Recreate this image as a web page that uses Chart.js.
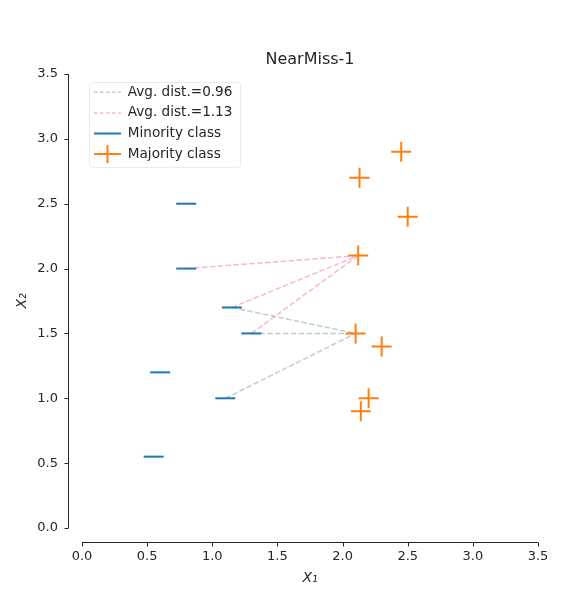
<!DOCTYPE html>
<html>
<head>
<meta charset="utf-8">
<script src="https://cdn.jsdelivr.net/npm/chart.js@4.4.1/dist/chart.umd.min.js"></script>
<style>
  html, body { margin: 0; padding: 0; background: #fff; }
  #wrap { width: 570px; height: 590px; }
</style>
</head>
<body>
<div id="wrap"><canvas id="myChart"></canvas></div>
<script>
// minority samples
var minorityX = [0.8, 0.8, 1.15, 1.3, 0.6, 1.1, 0.55];
var minorityY = [2.5, 2.0, 1.7, 1.5, 1.2, 1.0, 0.55];
// majority samples
var majorityX = [2.45, 2.13, 2.5, 2.12, 2.1, 2.3, 2.2, 2.14];
var majorityY = [2.9, 2.7, 2.4, 2.1, 1.5, 1.4, 1.0, 0.9];
// which minority points each highlighted majority point is linked to
var linkMajority = [4, 3];
var linkMinority = [[2, 3, 5], [1, 2, 3]];
var linkLabels = ['Avg. dist.=0.96', 'Avg. dist.=1.13'];
var linkColors = ['rgba(100,150,100,0.42)', 'rgba(240,100,150,0.45)'];
var classLabels = ['Minority class', 'Majority class'];
var xTicks = [0, 0.5, 1, 1.5, 2, 2.5, 3, 3.5];
var yTicks = [0, 0.5, 1, 1.5, 2, 2.5, 3, 3.5];

var pts = function (xs, ys) {
  return xs.map(function (x, i) { return {x: x, y: ys[i]}; });
};

var linkData = function (k) {
  var out = [];
  var M = linkMajority[k];
  linkMinority[k].forEach(function (m, j) {
    if (j > 0) out.push({x: null, y: null});
    out.push({x: minorityX[m], y: minorityY[m]});
    out.push({x: majorityX[M], y: majorityY[M]});
  });
  return out;
};

var FONT = 'DejaVu Sans';
var ink = '#262626';

var datasets = [];
linkLabels.forEach(function (lab, k) {
  datasets.push({
    label: lab,
    data: linkData(k),
    showLine: true,
    spanGaps: false,
    borderColor: linkColors[k],
    borderWidth: 1.5,
    borderDash: [5.5, 2.4],
    pointRadius: 0,
    order: 2
  });
});
datasets.push({
  label: classLabels[0],
  data: pts(minorityX, minorityY),
  pointStyle: 'line',
  pointRadius: 10,
  pointBorderColor: '#1f77b4',
  pointBorderWidth: 2,
  borderColor: '#1f77b4',
  order: 1
});
datasets.push({
  label: classLabels[1],
  data: pts(majorityX, majorityY),
  pointStyle: 'cross',
  pointRadius: 10,
  pointBorderColor: '#ff7f0e',
  pointBorderWidth: 2,
  borderColor: '#ff7f0e',
  order: 0
});

// matplotlib-like offset spines with small ticks, legend inside the axes
var spines = {
  id: 'spines',
  afterLayout: function (chart) {
    var lg = chart.legend, a = chart.chartArea;
    if (!lg) return;
    lg.left = a.left + 5;
    lg.top = a.top + 4.5;
    lg.right = lg.left + lg.width;
    lg.bottom = lg.top + lg.height;
  },
  beforeDraw: function (chart) {
    // legend frame
    var lg = chart.legend;
    if (!lg || !lg.legendHitBoxes || !lg.legendHitBoxes.length) return;
    var hb = lg.legendHitBoxes;
    var l = Infinity, t = Infinity, r = -Infinity, b = -Infinity;
    hb.forEach(function (h) {
      l = Math.min(l, h.left); t = Math.min(t, h.top);
      r = Math.max(r, h.left + h.width); b = Math.max(b, h.top + h.height);
    });
    var ctx = chart.ctx;
    ctx.save();
    ctx.fillStyle = 'rgba(255,255,255,0.8)';
    ctx.strokeStyle = '#ebebeb';
    ctx.lineWidth = 1;
    ctx.beginPath();
    ctx.roundRect(Math.round(l - 5) + 0.5, Math.round(t - 4) + 0.5, Math.round(r - l + 13), Math.round(b - t + 10), 3);
    ctx.fill();
    ctx.stroke();
    ctx.restore();
  },
  afterDraw: function (chart) {
    var ctx = chart.ctx;
    var xs = chart.scales.x, ys = chart.scales.y;
    var a = chart.chartArea;
    var gap = 14, tl = 4;
    ctx.save();
    ctx.strokeStyle = ink;
    ctx.lineWidth = 1;
    ctx.beginPath();
    var sx = Math.round(a.left - gap) + 0.5;
    ctx.moveTo(sx, ys.getPixelForValue(yTicks[0]));
    ctx.lineTo(sx, ys.getPixelForValue(yTicks[yTicks.length - 1]));
    yTicks.forEach(function (v) {
      var p = Math.round(ys.getPixelForValue(v)) + 0.5;
      ctx.moveTo(sx, p);
      ctx.lineTo(sx - tl, p);
    });
    var sy = Math.round(a.bottom + gap) + 0.5;
    ctx.moveTo(xs.getPixelForValue(xTicks[0]), sy);
    ctx.lineTo(xs.getPixelForValue(xTicks[xTicks.length - 1]), sy);
    xTicks.forEach(function (v) {
      var p = Math.round(xs.getPixelForValue(v)) + 0.5;
      ctx.moveTo(p, sy);
      ctx.lineTo(p, sy + tl);
    });
    ctx.stroke();
    ctx.restore();
  }
};

var ctx = document.getElementById('myChart');
new Chart(ctx, {
  type: 'scatter',
  data: {datasets: datasets},
  options: {
    responsive: true,
    maintainAspectRatio: false,
    animation: false,
    events: [],
    layout: {padding: {left: 0, right: 32, top: 0, bottom: 0}},
    scales: {
      x: {
        type: 'linear', min: 0, max: 3.5,
        afterBuildTicks: function (s) { s.ticks = xTicks.map(function (v) { return {value: v}; }); },
        afterFit: function (s) { s.height = 62; },
        grid: {display: false, drawTicks: false},
        border: {display: false},
        ticks: {
          padding: 21, color: ink, font: {family: FONT, size: 13},
          callback: function (v) { return v.toFixed(1); }
        },
        title: {display: true, text: 'X₁', color: ink, padding: {top: 0, bottom: 3},
          font: {family: FONT, size: 14, style: 'italic'}}
      },
      y: {
        type: 'linear', min: 0, max: 3.5,
        afterBuildTicks: function (s) { s.ticks = yTicks.map(function (v) { return {value: v}; }); },
        afterFit: function (s) { s.width = 82; },
        grid: {display: false, drawTicks: false},
        border: {display: false},
        ticks: {
          padding: 24, color: ink, font: {family: FONT, size: 13},
          callback: function (v) { return v.toFixed(1); }
        },
        title: {display: true, text: 'X₂', color: ink, padding: {top: 14, bottom: 0},
          font: {family: FONT, size: 14, style: 'italic'}}
      }
    },
    plugins: {
      title: {
        display: true, text: 'NearMiss-1', fullSize: false, color: ink,
        font: {family: FONT, size: 16, weight: 'normal'},
        padding: {top: 50, bottom: 4.8}
      },
      tooltip: {enabled: false},
      legend: {
        position: 'chartArea',
        align: 'start',
        labels: {
          usePointStyle: true,
          pointStyleWidth: 27,
          boxHeight: 13,
          padding: 7,
          color: ink,
          font: {family: FONT, size: 13.6},
          generateLabels: function (chart) {
            return chart.data.datasets.map(function (d, i) {
              return {
                text: d.label,
                datasetIndex: i,
                fontColor: ink,
                hidden: false,
                strokeStyle: d.borderColor,
                fillStyle: 'rgba(0,0,0,0)',
                lineWidth: i < 2 ? 1.5 : 2,
                lineDash: i < 2 ? [3.5, 2.5] : [],
                pointStyle: i === 3 ? 'cross' : 'line'
              };
            });
          }
        }
      }
    }
  },
  plugins: [spines]
});
</script>
</body>
</html>
